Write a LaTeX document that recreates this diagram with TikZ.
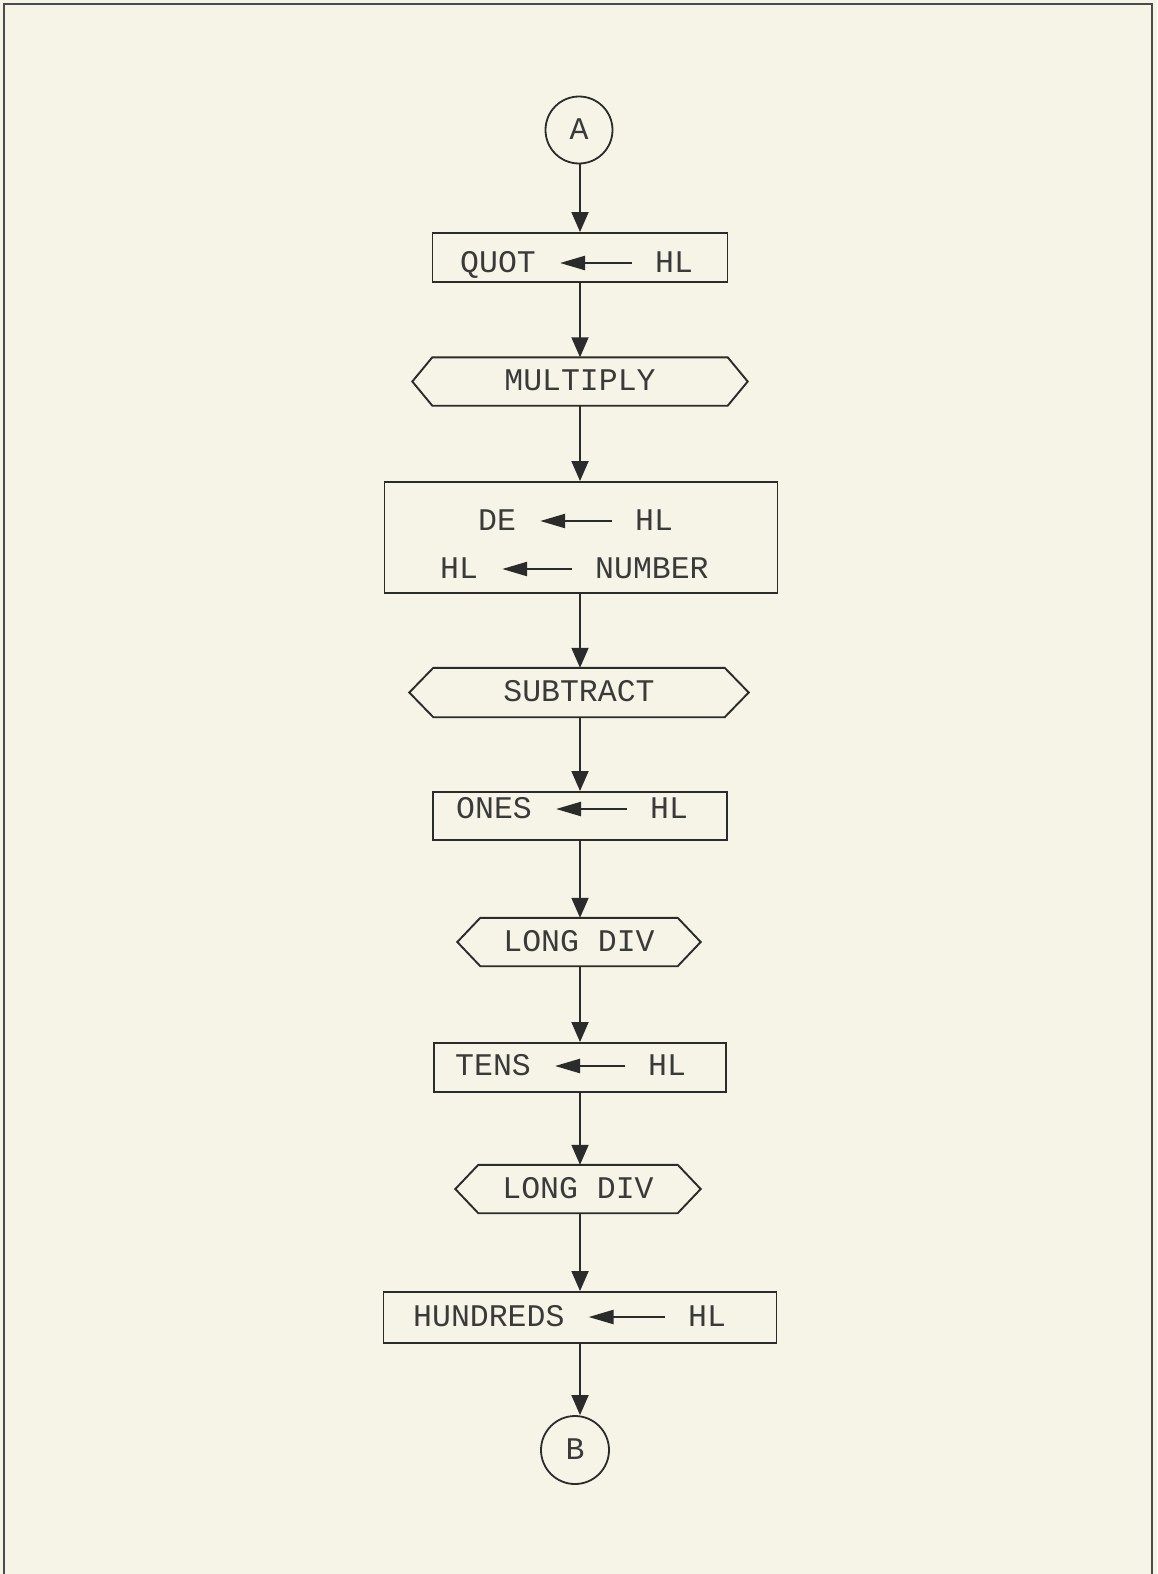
\documentclass[tikz,border=0pt]{standalone}
\usepackage{fontspec}
\newfontfamily\tw{Liberation Mono}
\usetikzlibrary{arrows.meta,calc}
\definecolor{paper}{HTML}{F5F4E6}
\definecolor{ink}{HTML}{2B2B2B}
\definecolor{txt}{HTML}{3A3A3A}
\begin{document}
\begin{tikzpicture}[x=1pt,y=-1pt,
  every node/.style={font=\tw\fontsize{31.5}{36}\selectfont, text=txt},
  box/.style={draw=ink, line width=1.9pt, rectangle, inner sep=0pt},
  hexn/.style={inner sep=0pt, minimum height=48pt, text height=18pt, text depth=0pt},
  hexline/.style={draw=ink, line width=1.9pt, line join=miter},
  circ/.style={draw=ink, line width=1.8pt, circle, minimum size=67pt, inner sep=0pt, text height=18pt, text depth=0pt},
  tx/.style={anchor=base west, inner sep=0pt, text height=18pt, text depth=0pt},
  conn/.style={draw=ink, line width=1.8pt, -{Triangle[length=20pt,width=17pt]}},
  inarr/.style={draw=ink, line width=2.4pt, -{Triangle[length=25pt,width=14pt]}, shorten <=23pt, shorten >=24pt},
  frame/.style={draw=ink!85, line width=1.6pt}]
\fill[paper] (0,0) rectangle (1157,1574);
\useasboundingbox (0,0) rectangle (1157,1574);
\draw[frame] (4,1574) -- (4,4) -- (1152,4) -- (1152,1574);

% connector A
\node[circ] (A) at (579,130) {A};

% QUOT <- HL
\node[box, minimum width=295pt, minimum height=49pt] (quot) at (580,257.5) {};
\node[tx] (quotL) at (460,272) {QUOT};
\node[tx] (quotR) at (655,272) {HL};
\draw[inarr] (quotR.west) -- (quotL.east);

% MULTIPLY
\node[hexn, minimum width=335pt] (mul) at (580,381.5) {MULTIPLY};

% DE <- HL ; HL <- NUMBER
\node[box, minimum width=393pt, minimum height=111pt] (de) at (581,537.5) {};
\node[tx] (deL) at (478,530) {DE};
\node[tx] (deR) at (635,530) {HL};
\draw[inarr] (deR.west) -- (deL.east);
\node[tx] (hlL) at (440,578) {HL};
\node[tx] (hlR) at (595,578) {NUMBER};
\draw[inarr] (hlR.west) -- (hlL.east);

% SUBTRACT
\node[hexn, minimum width=339pt, minimum height=49pt] (sub) at (579,692.5) {SUBTRACT};

% ONES <- HL
\node[box, minimum width=294pt, minimum height=48pt] (ones) at (580,816) {};
\node[tx] (onesL) at (456,818) {ONES};
\node[tx] (onesR) at (650,818) {HL};
\draw[inarr] (onesR.west) -- (onesL.east);

% LONG DIV 1
\node[hexn, minimum width=243pt] (ldone) at (579,942) {LONG DIV};

% TENS <- HL
\node[box, minimum width=292pt, minimum height=49pt] (tens) at (580,1067.5) {};
\node[tx] (tensL) at (455,1075) {TENS};
\node[tx] (tensR) at (648,1075) {HL};
\draw[inarr] (tensR.west) -- (tensL.east);

% LONG DIV 2
\node[hexn, minimum width=245pt] (ldtwo) at (578,1189) {LONG DIV};

% HUNDREDS <- HL
\node[box, minimum width=393pt, minimum height=51pt] (hund) at (580,1317.5) {};
\node[tx] (hundL) at (413,1326) {HUNDREDS};
\node[tx] (hundR) at (688,1326) {HL};
\draw[inarr] (hundR.west) -- (hundL.east);

% connector B
\node[circ, minimum size=68pt] (B) at (575,1450) {B};

% hexagon outlines
\foreach \n/\d in {mul/20, sub/24, ldone/23, ldtwo/23}
  \draw[hexline] (\n.west) -- ($(\n.north west)+(\d,0)$) -- ($(\n.north east)+(-\d,0)$)
    -- (\n.east) -- ($(\n.south east)+(-\d,0)$) -- ($(\n.south west)+(\d,0)$) -- cycle;

% flow connectors (all on the common axis of the boxes)
\draw[conn] (A.south -| quot.north) -- (quot.north);
\draw[conn] (quot.south) -- (quot.south |- mul.north);
\draw[conn] (quot.south |- mul.south) -- (quot.south |- de.north);
\draw[conn] (de.south -| quot.south) -- (sub.north -| quot.south);
\draw[conn] (sub.south -| quot.south) -- (ones.north -| quot.south);
\draw[conn] (ones.south) -- (ones.south |- ldone.north);
\draw[conn] (ldone.south -| ones.south) -- (tens.north -| ones.south);
\draw[conn] (tens.south) -- (tens.south |- ldtwo.north);
\draw[conn] (ldtwo.south -| hund.north) -- (hund.north);
\draw[conn] (hund.south) -- (hund.south |- B.north);
\end{tikzpicture}
\end{document}
